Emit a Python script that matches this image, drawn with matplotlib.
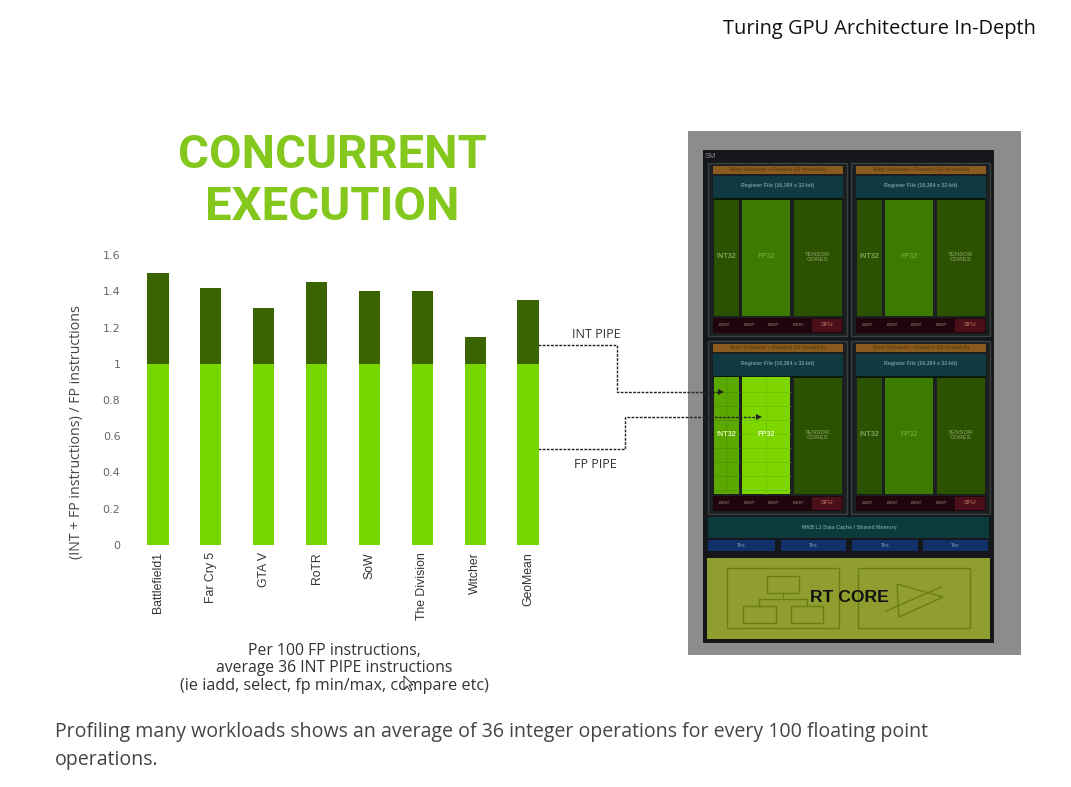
import matplotlib
matplotlib.use('Agg')
import matplotlib.pyplot as plt
from matplotlib.patches import Rectangle, Polygon

games = ['Battlefield1', 'Far Cry 5', 'GTA V', 'RoTR', 'SoW', 'The Division', 'Witcher', 'GeoMean']
fp_part = [1, 1, 1, 1, 1, 1, 1, 1]
int_part = [0.50, 0.42, 0.31, 0.45, 0.40, 0.40, 0.15, 0.35]
yticks = [0, 0.2, 0.4, 0.6, 0.8, 1, 1.2, 1.4, 1.6]
ytick_labels = ['0', '0.2', '0.4', '0.6', '0.8', '1', '1.2', '1.4', '1.6']

W, H = 1071, 787
fig = plt.figure(figsize=(W / 100, H / 100), dpi=100, facecolor='white')

# overlay in pixel coords for the slide stuff
bg = fig.add_axes([0, 0, 1, 1])
bg.set_xlim(0, W)
bg.set_ylim(H, 0)
bg.axis('off')


def box(x0, y0, x1, y1, color, ec='none', lw=0, z=2):
    bg.add_patch(Rectangle((x0, y0), x1 - x0, y1 - y0, fc=color, ec=ec, lw=lw, zorder=z))


def label(x, y, s, color, size, weight='normal'):
    bg.text(x, y, s, color=color, fontsize=size, ha='center', va='center', fontweight=weight,
            family='Liberation Sans', zorder=6)


# chart
ax = fig.add_axes([131.6 / W, 1 - 545 / H, (554.4 - 131.6) / W, 290 / H])
ax.patch.set_alpha(0)
x = range(len(games))
ax.bar(x, fp_part, width=0.4, color='#76d600')
ax.bar(x, int_part, width=0.4, bottom=fp_part, color='#3a6400')
ax.set_xlim(-0.5, 7.5)
ax.set_ylim(0, 1.6)
ax.set_yticks(yticks)
ax.set_yticklabels(ytick_labels, fontsize=8, color='#666666', family='DejaVu Sans')
ax.set_xticks(list(x))
ax.set_xticklabels(games, rotation=90, fontsize=8.8, color='#333333', family='Liberation Sans')
ax.tick_params(length=0, axis='y', pad=8)
ax.tick_params(length=0, axis='x', pad=5)
for s in ax.spines.values():
    s.set_visible(False)

bg.text(77, 432, '(INT + FP instructions) / FP instructions', rotation=90, fontsize=10.2,
        color='#444444', ha='center', va='center', family='Open Sans')

# slide texts
bg.text(1036, 29, 'Turing GPU Architecture In-Depth', fontsize=14.4, color='#111111', ha='right',
        va='center', family='Open Sans')
bg.text(332, 155, 'CONCURRENT', fontsize=34, color='#84c81e', ha='center', va='center',
        fontweight='bold', family='Roboto')
bg.text(332, 207, 'EXECUTION', fontsize=34, color='#84c81e', ha='center', va='center',
        fontweight='bold', family='Roboto')
for yy, s, fs in [(651, 'Per 100 FP instructions,', 11.3), (668, 'average 36 INT PIPE instructions', 11.3),
                  (686, '(ie iadd, select, fp min/max, compare etc)', 11.65)]:
    bg.text(334, yy, s, fontsize=fs, color='#333333', ha='center', va='center', family='Open Sans')
bg.text(55, 732, 'Profiling many workloads shows an average of 36 integer operations for every 100 floating point',
        fontsize=14.05, color='#444444', va='center', family='Open Sans')
bg.text(55, 760, 'operations.', fontsize=14.05, color='#444444', va='center', family='Open Sans')
bg.text(596, 334, 'INT PIPE', fontsize=9, color='#333333', ha='center', va='center', family='Open Sans')
bg.text(595, 465, 'FP PIPE', fontsize=9, color='#333333', ha='center', va='center', family='Open Sans')

# chip diagram
box(688, 131, 1021, 655, '#8c8c8c')
box(703, 150, 994, 643, '#15171a')
bg.text(705, 156, 'SM', fontsize=5.5, color='#8a8a8a', va='center', family='Liberation Sans', zorder=6)

for dx, dy, lit in [(0, 0, False), (143, 0, False), (0, 178, True), (143, 178, False)]:
    box(708 + dx, 163 + dy, 847 + dx, 336 + dy, '#1c1f20', ec='#3a3f3f', lw=1)
    box(713 + dx, 166 + dy, 843 + dx, 174 + dy, '#8a5a1e')
    label(778 + dx, 170 + dy, 'Warp Scheduler + Dispatch (32 thread/clk)', '#5f3f14', 3.4, 'bold')
    box(713 + dx, 176 + dy, 843 + dx, 198 + dy, '#0f3a42')
    label(778 + dx, 186 + dy, 'Register File (16,384 x 32-bit)', '#6f9aa0', 3.8, 'bold')
    box(713 + dx, 198 + dy, 843 + dx, 200 + dy, '#0a1a08')
    intc, fpc = ('#5aa800', '#7ed600') if lit else ('#2a5200', '#3c7a00')
    txt_i, txt_f = ('#dff5b0', '#e8ffc0') if lit else ('#7f9f60', '#6fa030')
    top = 200 if not lit else 199
    box(714 + dx, top + dy, 739 + dx, 316 + dy, intc)
    box(742 + dx, top + dy, 790 + dx, 316 + dy, fpc)
    box(794 + dx, 200 + dy, 842 + dx, 316 + dy, '#2c5200')
    if lit:
        for gy in range(214, 316, 14):
            bg.plot([714 + dx, 739 + dx], [gy + dy, gy + dy], color='#4c9400', lw=0.6, zorder=3)
            bg.plot([742 + dx, 790 + dx], [gy + dy, gy + dy], color='#70c400', lw=0.6, zorder=3)
        bg.plot([726 + dx, 726 + dx], [top + dy, 316 + dy], color='#4c9400', lw=0.6, zorder=3)
        bg.plot([766 + dx, 766 + dx], [top + dy, 316 + dy], color='#70c400', lw=0.6, zorder=3)
    label(726.5 + dx, 257 + dy, 'INT32', txt_i, 5.2, 'bold')
    label(766 + dx, 257 + dy, 'FP32', txt_f, 5.2, 'bold')
    label(818 + dx, 257 + dy, 'TENSOR\nCORES', '#6f8f50', 4.4, 'bold')
    box(713 + dx, 318 + dy, 843 + dx, 333 + dy, '#1e060c')
    box(812 + dx, 319 + dy, 842 + dx, 332 + dy, '#4a0f18')
    label(827 + dx, 325 + dy, 'SFU', '#a05a50', 4.6, 'bold')
    for lx in (724, 749, 773, 798):
        label(lx + dx, 325 + dy, 'LD/ST', '#8a6a6a', 2.8, 'bold')

box(708, 517, 989, 538, '#0d3a3c')
label(849, 527, 'MKB L1 Data Cache / Shared Memory', '#6f9a9a', 3.8, 'bold')
for x0, x1 in [(708, 775), (781, 846), (852, 918), (923, 988)]:
    box(x0, 540, x1, 551, '#12306a')
    label((x0 + x1) / 2, 545.5, 'Tex', '#5f7fa8', 3.8, 'bold')

box(707, 558, 990, 639, '#8f9e2e')
rt_line = '#6b7d14'
for x0, y0, x1, y1 in [(727, 568, 839, 628), (858, 568, 970, 628),
                       (767, 576, 799, 593), (743, 606, 776, 623), (791, 606, 823, 623)]:
    bg.add_patch(Rectangle((x0, y0), x1 - x0, y1 - y0, fc='none', ec=rt_line, lw=1, zorder=3))
bg.plot([783, 783], [593, 599], color=rt_line, lw=1, zorder=3)
bg.plot([759, 807], [599, 599], color=rt_line, lw=1, zorder=3)
bg.plot([759, 759], [599, 606], color=rt_line, lw=1, zorder=3)
bg.plot([807, 807], [599, 606], color=rt_line, lw=1, zorder=3)
bg.add_patch(Polygon([(897, 584), (943, 597), (899, 617)], fc='none', ec=rt_line, lw=1, zorder=3))
bg.plot([886, 941], [611, 587], color=rt_line, lw=1, zorder=3)
label(849, 597, 'RT CORE', '#111111', 12.6, 'bold')

# pipe arrows
for xs, ys in [([538, 617, 617, 718], [345, 345, 392, 392]),
               ([538, 625, 625, 756], [449, 449, 417, 417])]:
    bg.plot(xs, ys, color='#222222', lw=1, ls=(0, (2, 1)), zorder=7)
    bg.add_patch(Polygon([(xs[-1], ys[-1] - 3), (xs[-1] + 6, ys[-1]), (xs[-1], ys[-1] + 3)],
                         fc='#222222', ec='none', zorder=7))

# mouse pointer left in the screenshot
bg.add_patch(Polygon([(404, 676), (404, 689), (407, 686), (410, 691), (412, 690), (409, 685), (413, 685)],
                     fc='white', ec='#333333', lw=0.7, zorder=8))

fig.savefig('out.png', dpi=100)
